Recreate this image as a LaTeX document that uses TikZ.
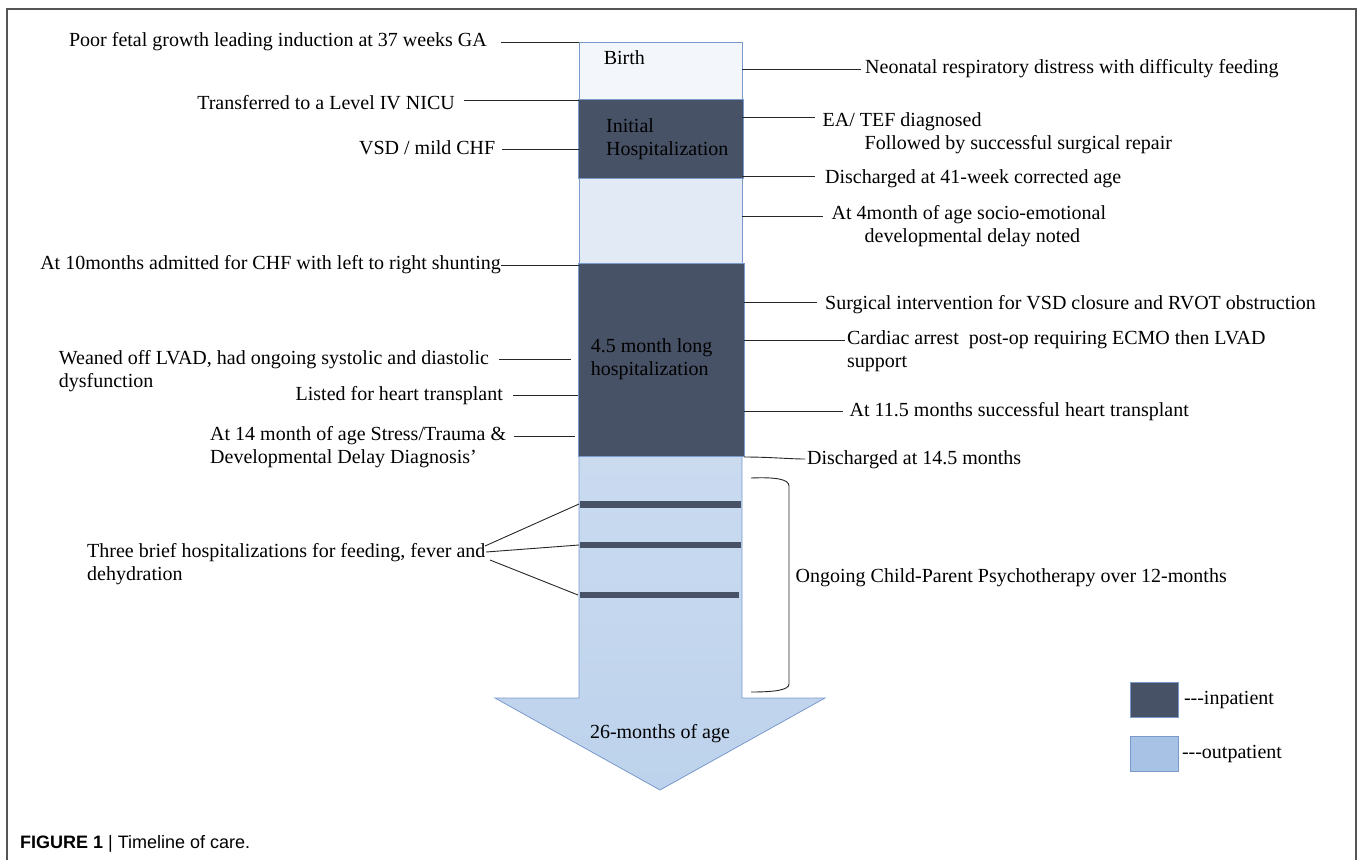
\documentclass[tikz,border=0pt]{standalone}
\usepackage{fontspec}
\setmainfont{Liberation Serif}
\newfontfamily\capfont{Liberation Sans}
\definecolor{darkfill}{HTML}{475266}
\definecolor{birthfill}{HTML}{F3F7FC}
\definecolor{lightfill}{HTML}{E2EAF6}
\definecolor{outtop}{HTML}{CADBF0}
\definecolor{outbot}{HTML}{BDD2EC}
\definecolor{barline}{HTML}{7A9ACB}
\definecolor{legfill}{HTML}{A7C2E5}
\definecolor{framec}{HTML}{555555}
\begin{document}
\begin{tikzpicture}[x=1pt,y=-1pt,
  lbl/.style={font=\fontsize{20}{23}\selectfont, inner ysep=0pt, align=left, text=black},
  conn/.style={draw=black!85, line width=0.9pt},
  seg/.style={draw=barline, line width=0.8pt},
  legbox/.style={draw=barline, line width=0.8pt, minimum width=48, minimum height=35, inner sep=0pt, anchor=north west}]
\useasboundingbox (0,0) rectangle (1358,860);
\draw[framec, line width=1.2pt] (7,860) -- (7,9) -- (1356,9) -- (1356,860);

% ---- timeline bar ----
\path[seg, top color=outtop, bottom color=outbot] (579,456) -- (742,456) -- (742,698) -- (825,698) -- (660,790) -- (495,698) -- (579,698) -- cycle;
\path[seg, fill=birthfill] (579,42) rectangle (742,99);
\path[seg, fill=darkfill] (578,99) rectangle (743,178);
\path[seg, fill=lightfill] (579,178) rectangle (742,263);
\path[seg, fill=darkfill] (578,263) rectangle (744,456);
\fill[darkfill] (580,501) rectangle (741,508);
\fill[darkfill] (580,542) rectangle (741,548);
\fill[darkfill] (580,592) rectangle (739,598);

% ---- texts inside bar ----
\node[lbl, inner sep=0pt, anchor=base west] (birth) at (603.6,64) {Birth};
\node[lbl, inner sep=0pt, anchor=base west] (init) at (606,155) {Initial\\Hospitalization};
\node[lbl, inner sep=0pt, anchor=base west] (long) at (590.6,375.7) {4.5 month long\\hospitalization};
\node[lbl, inner sep=0pt, anchor=base] (end) at (660,738) {26-months of age};

% ---- left labels ----
\node[lbl, inner xsep=14pt, anchor=base east] (poor) at (501,46) {Poor fetal growth leading induction at 37 weeks GA};
\coordinate (bpoor) at (579,42);
\draw[conn] (poor.east |- bpoor) -- (bpoor);

\node[lbl, inner xsep=9pt, anchor=base east] (nicu) at (464,109) {Transferred to a Level IV NICU};
\coordinate (bnicu) at (579,100);
\draw[conn] (nicu.east |- bnicu) -- (bnicu);

\node[lbl, inner xsep=6.5pt, anchor=base east] (vsd) at (502,154) {VSD / mild CHF};
\coordinate (bvsd) at (579,149);
\draw[conn] (vsd.east |- bvsd) -- (bvsd);

\node[lbl, inner xsep=0pt, anchor=base east] (adm) at (501,269) {At 10months admitted for CHF with left to right shunting};
\coordinate (badm) at (579,265);
\draw[conn] (adm.east |- badm) -- (badm);

\node[lbl, inner xsep=10pt, anchor=base west] (wean) at (48.7,387) {Weaned off LVAD, had ongoing systolic and diastolic\\dysfunction};
\coordinate (bwean) at (571,359);
\draw[conn] (wean.east |- bwean) -- (bwean);

\node[lbl, inner xsep=10pt, anchor=base east] (listed) at (513,400) {Listed for heart transplant};
\coordinate (blisted) at (578,395);
\draw[conn] (listed.east |- blisted) -- (blisted);

\node[lbl, inner xsep=8pt, anchor=base west] (at14) at (202,463) {At 14 month of age Stress/Trauma \&\\Developmental Delay Diagnosis’};
\coordinate (bat14) at (575,436);
\draw[conn] (at14.east |- bat14) -- (bat14);

\node[lbl, inner xsep=0pt, anchor=base west] (three) at (87,580) {Three brief hospitalizations for feeding, fever and\\dehydration};
\coordinate (f1) at (485,546);
\coordinate (f2) at (486,552);
\coordinate (f3) at (490,560);
\coordinate (h1) at (579,504);
\coordinate (h2) at (579,545);
\coordinate (h3) at (578,595);
\draw[conn] (f1) -- (h1);
\draw[conn] (f2) -- (h2);
\draw[conn] (f3) -- (h3);

% ---- right labels ----
\node[lbl, inner xsep=4pt, anchor=base west] (neo) at (861,73) {Neonatal respiratory distress with difficulty feeding};
\coordinate (bneo) at (742,69);
\draw[conn] (bneo) -- (bneo -| neo.west);

\node[lbl, inner xsep=7.5pt, anchor=base west] (ea) at (815,149) {EA/ TEF diagnosed\\\hspace*{42pt}Followed by successful surgical repair};
\coordinate (bea) at (742,117);
\draw[conn] (bea) -- (bea -| ea.west);

\node[lbl, inner xsep=10pt, anchor=base west] (dis41) at (815,183) {Discharged at 41-week corrected age};
\coordinate (bdis41) at (742,176);
\draw[conn] (bdis41) -- (bdis41 -| dis41.west);

\node[lbl, inner xsep=9pt, anchor=base west] (m4) at (822.5,242) {At 4month of age socio-emotional\\\hspace*{33pt}developmental delay noted};
\coordinate (bm4) at (742,216);
\draw[conn] (bm4) -- (bm4 -| m4.west);

\node[lbl, inner xsep=8pt, anchor=base west] (surg) at (817,309) {Surgical intervention for VSD closure and RVOT obstruction};
\coordinate (bsurg) at (744,302);
\draw[conn] (bsurg) -- (bsurg -| surg.west);

\node[lbl, inner xsep=2pt, anchor=base west] (card) at (845,367) {Cardiac arrest\ \ post-op requiring ECMO then LVAD\\support};
\coordinate (bcard) at (744,340);
\draw[conn] (bcard) -- (bcard -| card.west);

\node[lbl, inner xsep=6.5pt, anchor=base west] (tx) at (843,416) {At 11.5 months successful heart transplant};
\coordinate (btx) at (744,411);
\draw[conn] (btx) -- (btx -| tx.west);

\node[lbl, inner xsep=2pt, anchor=base west] (dis145) at (805,464) {Discharged at 14.5 months};
\coordinate (bdis145) at (744,457);
\coordinate (edis145) at (805,459);
\draw[conn] (bdis145) .. controls (770,457) and (790,459) .. (edis145);

% ---- bracket and therapy ----
\draw[conn] (751,478) .. controls (775,477) and (789,479) .. (789,486) -- (789,684) .. controls (789,690) and (775,692) .. (751,692);
\node[lbl, inner sep=0pt, anchor=base west] (ongo) at (795.5,582) {Ongoing Child-Parent Psychotherapy over 12-months};

% ---- legend ----
\node[legbox, fill=darkfill] (legin) at (1130,682) {};
\node[lbl, inner sep=0pt, anchor=west] (legintxt) at ([xshift=5pt]legin.east) {-{}-{}-inpatient};
\node[legbox, fill=legfill] (legout) at (1130,736) {};
\node[lbl, inner sep=0pt, anchor=west] (legouttxt) at ([xshift=3pt]legout.east) {-{}-{}-outpatient};

% ---- caption ----
\node[anchor=base west, inner sep=0pt, font=\capfont\fontsize{18}{21}\selectfont] (cap) at (20,848) {\textbf{FIGURE 1} | Timeline of care.};
\end{tikzpicture}
\end{document}
